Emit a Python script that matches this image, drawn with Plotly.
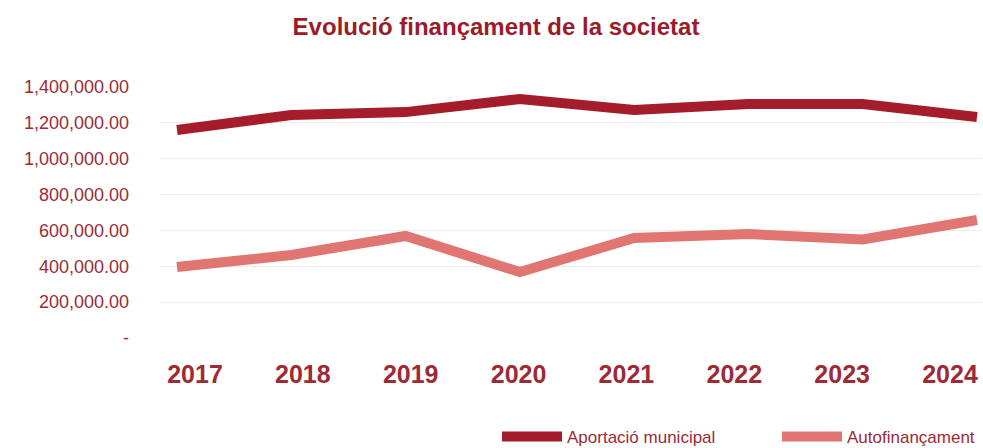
import plotly.graph_objects as go

years = ["2017", "2018", "2019", "2020", "2021", "2022", "2023", "2024"]
aportacio_municipal = [1160000, 1244000, 1260000, 1333000, 1272000, 1305000, 1305000, 1233000]
autofinancament = [396000, 463000, 569000, 368000, 558000, 580000, 550000, 658000]
y_ticks = [0, 200000, 400000, 600000, 800000, 1000000, 1200000, 1400000]
y_ticktext = ["-" if v == 0 else f"{v:,.2f}" for v in y_ticks]

DARK = "#A51C2B"
LIGHT = "#E07571"
TXT = "#9E2A36"
FONT = "Liberation Sans, Arial, sans-serif"

W, H = 983, 448
PL, PR = 160, 982        # plot area left/right (px)
PT, PB = 87, 338         # plot area top/bottom (px)

fig = go.Figure()
fig.add_trace(go.Scatter(
    x=years, y=aportacio_municipal, name="Aportació municipal", mode="lines",
    line=dict(color=DARK, width=10), hoverinfo="x+y", legend="legend"))
fig.add_trace(go.Scatter(
    x=years, y=autofinancament, name="Autofinançament", mode="lines",
    line=dict(color=LIGHT, width=10), hoverinfo="x+y", legend="legend2"))
# label-only axis for the year labels
fig.add_trace(go.Scatter(
    x=years, y=[None] * len(years), xaxis="x2", mode="lines",
    showlegend=False, hoverinfo="skip"))

n = len(years)
first_line, last_line = 177, 977
span_line = (last_line - first_line) / (n - 1)
r0 = -(first_line - PL) / span_line
r1 = (n - 1) + (PR - last_line) / span_line
first_lab, last_lab = 195, 950
span_lab = (last_lab - first_lab) / (n - 1)
l0 = -(first_lab - PL) / span_lab
l1 = (n - 1) + (PR - last_lab) / span_lab

LEG_Y = 1 - 437 / H
leg_common = dict(orientation="h", xref="container", yref="container", xanchor="left",
                  yanchor="middle", y=LEG_Y, itemwidth=60,
                  font=dict(size=17, color=TXT, family=FONT), bgcolor="rgba(0,0,0,0)")

fig.update_layout(
    width=W, height=H,
    margin=dict(l=PL, r=W - PR, t=PT, b=H - PB),
    paper_bgcolor="white", plot_bgcolor="white",
    font=dict(family=FONT, color=TXT),
    title=dict(text="<b>Evolució finançament de la societat</b>", x=496 / W, xanchor="center",
               y=1 - 27 / H, yanchor="middle", font=dict(size=24, color="#9B1B2A", family=FONT)),
    xaxis=dict(type="category", range=[r0, r1], showticklabels=False, showgrid=False,
               zeroline=False, showline=False, ticks=""),
    xaxis2=dict(type="category", overlaying="x", side="bottom", range=[l0, l1],
                showgrid=False, zeroline=False, showline=False, ticks="",
                tickfont=dict(size=25, color=TXT, family=FONT, weight="bold"),
                ticklabelstandoff=19),
    yaxis=dict(range=[0, 1400000], tickvals=y_ticks, ticktext=y_ticktext,
               showgrid=True, gridcolor="#EEEAE8", gridwidth=1, zeroline=False,
               showline=False, ticks="", ticklabelstandoff=30,
               tickfont=dict(size=18, color=TXT, family=FONT)),
    legend=dict(x=497 / W, **leg_common),
    legend2=dict(x=777 / W, **leg_common),
    hovermode="closest",
)

fig.write_html("out.html", config={"displayModeBar": False},
               post_script="document.body.style.margin='0';document.body.style.overflow='hidden';")
